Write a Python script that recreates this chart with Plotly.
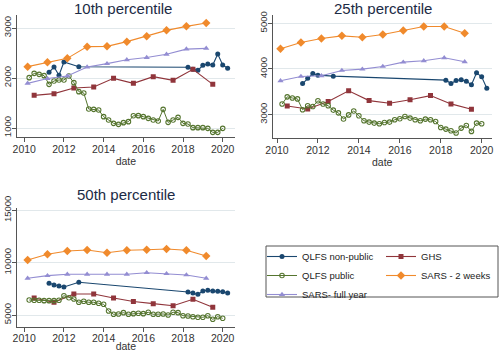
import plotly.graph_objects as go

# ---------------- data ----------------
qlfs_np_x = [2011.25, 2011.5, 2011.75, 2012.0, 2012.75, 2018.25, 2018.5, 2018.75,
             2019.0, 2019.25, 2019.5, 2019.75, 2020.0, 2020.25]
qlfs_pub_x = [2010.25, 2010.5, 2010.75, 2011.0, 2011.25, 2011.5, 2011.75, 2012.0,
              2012.25, 2012.5, 2012.75, 2013.0, 2013.25, 2013.5, 2013.75, 2014.0,
              2014.25, 2014.5, 2014.75, 2015.0, 2015.25, 2015.5, 2015.75, 2016.0,
              2016.25, 2016.5, 2016.75, 2017.0, 2017.25, 2017.5, 2017.75, 2018.0,
              2018.25, 2018.5, 2018.75, 2019.0, 2019.25, 2019.5, 2019.75, 2020.0]
ghs_x = [2010.5, 2011.5, 2012.5, 2013.5, 2014.5, 2015.5, 2016.5, 2017.5, 2018.5, 2019.5]
sars_x = [2010.17, 2011.17, 2012.17, 2013.17, 2014.17, 2015.17, 2016.17, 2017.17, 2018.17, 2019.17]

p10_np = [2114, 2220, 2054, 2320, 2226, 2214, 2174, 2154, 2254, 2280, 2260, 2480, 2260, 2194]
p10_pub = [2007, 2093, 2073, 2047, 1873, 1940, 1960, 1960, 2040, 1907, 1727, 1700, 1380, 1373,
           1360, 1227, 1160, 1093, 1073, 1107, 1127, 1245, 1247, 1227, 1193, 1160, 1140, 1373,
           1113, 1160, 1213, 1093, 1080, 1007, 1007, 1007, 993, 913, 913, 993]
p10_ghs = [1653, 1687, 1800, 1820, 1993, 1893, 2027, 1953, 2173, 1873]
p10_sars2w = [2227, 2313, 2393, 2627, 2633, 2727, 2833, 2953, 3033, 3100]
p10_sarsfy = [1893, 1990, 2040, 2220, 2287, 2365, 2410, 2475, 2578, 2593]

p25_np = [3681, 3799, 3900, 3865, 3843, 3755, 3681, 3747, 3762, 3733, 3653, 3915, 3827, 3580]
p25_pub = [3233, 3390, 3365, 3345, 3108, 3195, 3180, 3305, 3232, 3195, 3100, 3040, 2905, 2995,
           3080, 2977, 2867, 2838, 2816, 2801, 2830, 2838, 2889, 2911, 2961, 2925, 2889, 2867,
           2903, 2889, 2852, 2721, 2685, 2649, 2598, 2707, 2765, 2634, 2816, 2801]
p25_ghs = [3190, 3125, 3290, 3522, 3308, 3250, 3326, 3417, 3236, 3118]
p25_sars2w = [4440, 4578, 4665, 4724, 4695, 4753, 4840, 4927, 4927, 4782]
p25_sarsfy = [3742, 3836, 3850, 3967, 3996, 4055, 4149, 4178, 4244, 4156]

p50_np = [8028, 7868, 7773, 7677, 8124, 7200, 7100, 6978, 7295, 7360, 7295, 7264, 7232, 7105]
p50_pub = [6434, 6405, 6405, 6370, 6370, 6370, 6405, 6845, 6655, 6530, 6213, 6310, 6213, 6213,
           6119, 6023, 5384, 5067, 5100, 5225, 5067, 5130, 5164, 5130, 5260, 5067, 5067, 5100,
           5000, 5260, 5225, 4935, 4905, 4840, 4780, 4780, 4935, 4590, 4840, 4686]
p50_ghs = [6625, 6213, 7010, 7010, 6625, 6290, 6085, 5890, 6500, 5737]
p50_sars2w = [10254, 10798, 11113, 11208, 10951, 11180, 11237, 11304, 11180, 10636]
p50_sarsfy = [8505, 8760, 8888, 8888, 8890, 8888, 9040, 8945, 8823, 8505]

panel_titles = ["10th percentile", "25th percentile", "50th percentile"]
x_ticks = [2010, 2012, 2014, 2016, 2018, 2020]
y_ticks = [[1000, 2000, 3000], [3000, 4000, 5000], [5000, 10000, 15000]]

# ---------------- styles ----------------
C_NP = "#1a476f"
C_GHS = "#90353b"
C_PUB = "#55752f"
C_S2W = "#f08a2c"
C_SFY = "#938dd2"
FONT = "Liberation Sans, Arial, sans-serif"

W, H = 500, 352
def px_x(v):
    return v / W
def px_y(v):
    return 1 - v / H

panels = [
    dict(xa="x", ya="y", xd=[px_x(16.7), px_x(235)], yd=[px_y(137), px_y(15)],
         xr=[2009.62, 2020.62], yr=[820, 3260],
         data=(p10_np, p10_pub, p10_ghs, p10_sars2w, p10_sarsfy)),
    dict(xa="x2", ya="y2", xd=[px_x(272.7), px_x(491.7)], yd=[px_y(138), px_y(15)],
         xr=[2009.79, 2020.49], yr=[2490, 5180],
         data=(p25_np, p25_pub, p25_ghs, p25_sars2w, p25_sarsfy)),
    dict(xa="x3", ya="y3", xd=[px_x(16.7), px_x(235)], yd=[px_y(326.7), px_y(208.3)],
         xr=[2009.62, 2020.62], yr=[3884, 15190],
         data=(p50_np, p50_pub, p50_ghs, p50_sars2w, p50_sarsfy)),
]

fig = go.Figure()
for i, p in enumerate(panels):
    np_v, pub_v, ghs_v, s2w_v, sfy_v = p["data"]
    show = i == 0
    common = dict(xaxis=p["xa"], yaxis=p["ya"], showlegend=show, mode="lines+markers")
    fig.add_trace(go.Scatter(x=qlfs_np_x, y=np_v, name="QLFS non-public", legend="legend",
                             line=dict(color=C_NP, width=1.1),
                             marker=dict(symbol="circle", size=5, color=C_NP), **common))
    fig.add_trace(go.Scatter(x=ghs_x, y=ghs_v, name="GHS", legend="legend2",
                             line=dict(color=C_GHS, width=1.1),
                             marker=dict(symbol="square", size=5, color=C_GHS), **common))
    fig.add_trace(go.Scatter(x=qlfs_pub_x, y=pub_v, name="QLFS public", legend="legend",
                             line=dict(color=C_PUB, width=1.0),
                             marker=dict(symbol="circle-open", size=4.5, color=C_PUB,
                                         line=dict(width=1.1)), **common))
    fig.add_trace(go.Scatter(x=sars_x, y=s2w_v, name="SARS - 2 weeks", legend="legend2",
                             line=dict(color=C_S2W, width=1.1),
                             marker=dict(symbol="diamond", size=6.5, color=C_S2W), **common))
    fig.add_trace(go.Scatter(x=sars_x, y=sfy_v, name="SARS- full year", legend="legend",
                             line=dict(color=C_SFY, width=1.1),
                             marker=dict(symbol="triangle-up", size=5.5, color=C_SFY), **common))

axis_common = dict(showline=True, linecolor="#555555", linewidth=1, ticks="outside",
                   ticklen=4, tickcolor="#555555", zeroline=False, automargin=False)
layout = dict(width=W, height=H, margin=dict(l=0, r=0, t=0, b=0, autoexpand=False),
              template="none",
              paper_bgcolor="white", plot_bgcolor="white",
              font=dict(family=FONT, size=11, color="#333333"))
for i, p in enumerate(panels):
    sfx = "" if i == 0 else str(i + 1)
    layout["xaxis" + sfx] = dict(domain=p["xd"], range=p["xr"], tickvals=x_ticks,
                                 anchor="y" + sfx, showgrid=False,
                                 tickfont=dict(family=FONT, size=10.5, color="#333333"),
                                 ticklabelstandoff=-2,
                                 title=dict(text="date", standoff=0,
                                            font=dict(family=FONT, size=10.5, color="#333333")),
                                 **axis_common)
    layout["yaxis" + sfx] = dict(domain=p["yd"], range=p["yr"], tickvals=y_ticks[i],
                                 tickformat="d", ticklabelstandoff=-3,
                                 tickfont=dict(family=FONT, size=9.5, color="#333333"),
                                 anchor="x" + sfx, showgrid=True, gridcolor="#e1e8eb",
                                 gridwidth=1, tickangle=-90, **axis_common)
fig.update_layout(**layout)

title_pos = [(122.5, 9), (382.8, 9), (126, 194)]
for t, (cx, cy) in zip(panel_titles, title_pos):
    fig.add_annotation(text=t, x=px_x(cx), y=px_y(cy), xref="paper", yref="paper",
                       showarrow=False, xanchor="center", yanchor="middle",
                       font=dict(family=FONT, size=15, color="#1c2b45"))

legend_font = dict(family=FONT, size=9.5, color="#222222")
fig.update_layout(
    legend=dict(x=px_x(262), y=px_y(242), xanchor="left", yanchor="top",
                orientation="v", bgcolor="rgba(0,0,0,0)", borderwidth=0,
                font=legend_font, tracegroupgap=0, traceorder="normal"),
    legend2=dict(x=px_x(381), y=px_y(242), xanchor="left", yanchor="top",
                 orientation="v", bgcolor="rgba(0,0,0,0)", borderwidth=0,
                 font=legend_font, tracegroupgap=0, traceorder="normal"),
)
fig.add_shape(type="rect", xref="paper", yref="paper",
              x0=px_x(266), x1=px_x(498), y0=px_y(297), y1=px_y(246),
              line=dict(color="#555555", width=1), fillcolor="rgba(0,0,0,0)", layer="below")

fig.write_html("out.html")
